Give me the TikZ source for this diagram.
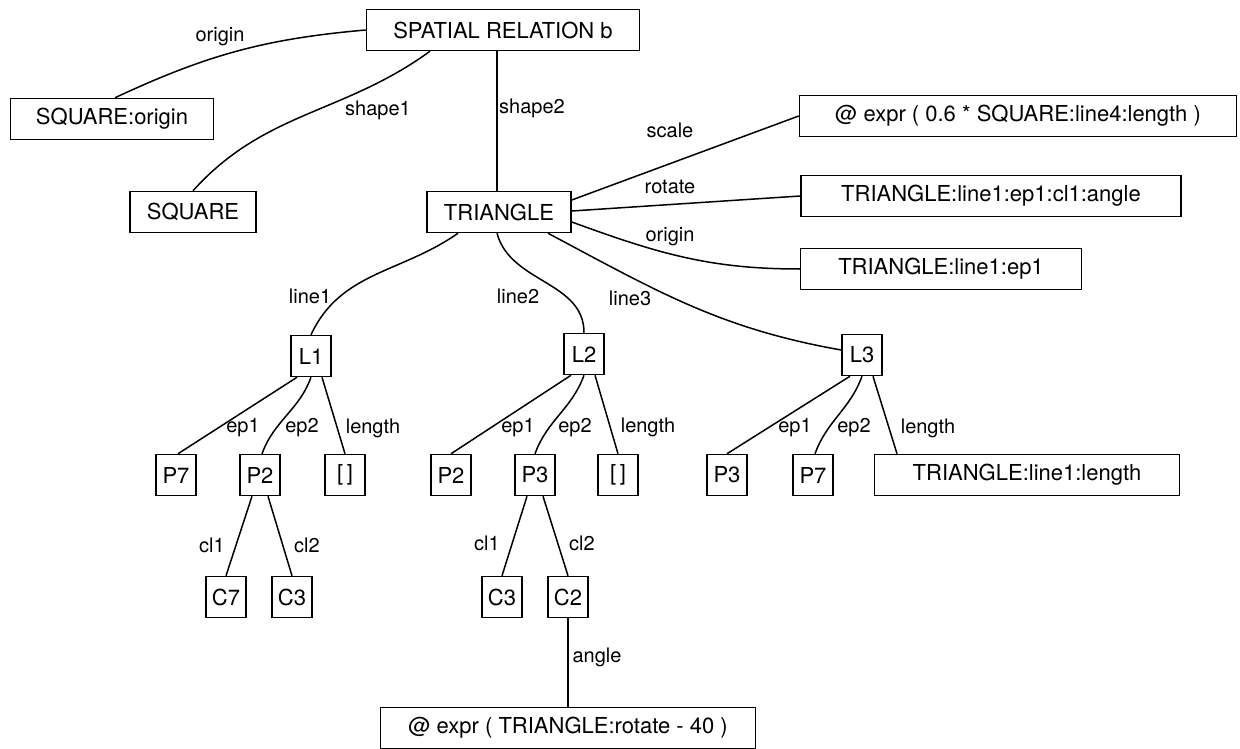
\documentclass[tikz,border=0pt]{standalone}
\usepackage{fontspec}
\setmainfont{TeX Gyre Heros}
\begin{document}
\begin{tikzpicture}[x=1pt,y=1pt,
  box/.style={draw, line width=1.5pt, inner sep=0pt, minimum height=41pt,
    font=\fontsize{22}{26}\selectfont},
  sbox/.style={box, minimum width=40pt},
  lbl/.style={inner sep=0pt, font=\fontsize{20}{24}\selectfont},
  link/.style={line width=1.5pt}]
\useasboundingbox (0,0) rectangle (1240,-749);

% upper part of the relation
\node[box, minimum width=273pt] (rel) at (503,-30) {SPATIAL RELATION b};
\node[box, minimum width=203pt] (sqo) at (112,-119) {SQUARE:origin};
\node[box, minimum width=126pt] (sq)  at (193,-212) {SQUARE};
\node[box, minimum width=144pt] (tri) at (499,-212) {TRIANGLE};
\node[box, minimum width=437pt] (scl) at (1018,-116) {@ expr ( 0.6 * SQUARE:line4:length )};
\node[box, minimum width=380pt] (rot) at (991,-196) {TRIANGLE:line1:ep1:cl1:angle};
\node[box, minimum width=281pt] (org) at (941,-269) {TRIANGLE:line1:ep1};

% lines of the triangle
\node[sbox] (l1) at (311,-356) {L1};
\node[sbox] (l2) at (584,-354) {L2};
\node[sbox] (l3) at (862,-355) {L3};

% end points and lengths
\node[sbox] (a1) at (176,-475) {P7};
\node[sbox] (a2) at (260,-475) {P2};
\node[sbox] (a3) at (345,-475) {[\,]};
\node[sbox] (b1) at (451,-475) {P2};
\node[sbox] (b2) at (535,-475) {P3};
\node[sbox] (b3) at (618,-475) {[\,]};
\node[sbox] (c1) at (727,-475) {P3};
\node[sbox] (c2) at (813,-475) {P7};
\node[box, minimum width=305pt] (c3) at (1027,-475) {TRIANGLE:line1:length};

% corners
\node[sbox] (d1) at (226,-597) {C7};
\node[sbox] (d2) at (292,-597) {C3};
\node[sbox] (e1) at (502,-597) {C3};
\node[sbox] (e2) at (568,-597) {C2};
\node[box, minimum width=375pt] (ex2) at (568,-728) {@ expr ( TRIANGLE:rotate - 40 )};

% connectors
\draw[link] (rel.west) to[out=185,in=25] ([xshift=3pt]sqo.north);
\draw[link] ([xshift=-73pt]rel.south) to[out=216,in=48] (sq.north);
\draw[link] ([xshift=-6pt]rel.south) -- ([xshift=-2pt]tri.north);
\draw[link] ([yshift=12pt]tri.east) -- (scl.west);
\draw[link] ([yshift=1pt]tri.east) -- (rot.west);
\draw[link] ([yshift=-10pt]tri.east) to[out=-20,in=180] (org.west);
\draw[link] ([xshift=-41pt]tri.south) to[out=215,in=65] (l1.north);
\draw[link] ([xshift=-2pt]tri.south) to[out=-75,in=90] (l2.north);
\draw[link] ([xshift=49pt]tri.south) to[out=-28,in=170] ([yshift=5pt]l3.west);

\draw[link] ([xshift=-14pt]l1.south) -- ([xshift=2pt]a1.north);
\draw[link] (l1.south) to[out=250,in=70] ([xshift=2pt]a2.north);
\draw[link] ([xshift=11pt]l1.south) -- (a3.north);
\draw[link] ([xshift=-8pt]a2.south) -- (d1.north);
\draw[link] ([xshift=8pt]a2.south) -- (d2.north);

\draw[link] ([xshift=-13pt]l2.south) -- (b1.north);
\draw[link] (l2.south) to[out=250,in=70] (b2.north);
\draw[link] ([xshift=11pt]l2.south) -- (b3.north);
\draw[link] ([xshift=-8pt]b2.south) -- (e1.north);
\draw[link] ([xshift=8pt]b2.south) -- (e2.north);
\draw[link] (e2.south) -- (ex2.north);

\draw[link] ([xshift=-12pt]l3.south) -- (c1.north);
\draw[link] (l3.south) to[out=250,in=70] ([xshift=2pt]c2.north);
\draw[link] ([xshift=11pt]l3.south) -- ([xshift=-130pt]c3.north);

% connector labels
\node[lbl] (t1)  at (220,-37)  {origin};
\node[lbl] (t2)  at (378,-110) {shape1};
\node[lbl] (t3)  at (532,-108) {shape2};
\node[lbl] (t4)  at (670,-130) {scale};
\node[lbl] (t5)  at (670,-187) {rotate};
\node[lbl] (t6)  at (670,-237) {origin};
\node[lbl] (t7)  at (310,-296) {line1};
\node[lbl] (t8)  at (518,-296) {line2};
\node[lbl] (t9)  at (630,-298) {line3};
\node[lbl] (t10) at (243,-428) {ep1};
\node[lbl] (t11) at (302,-428) {ep2};
\node[lbl] (t12) at (373,-428) {length};
\node[lbl] (t13) at (212,-545) {cl1};
\node[lbl] (t14) at (307,-545) {cl2};
\node[lbl] (t15) at (518,-428) {ep1};
\node[lbl] (t16) at (575,-428) {ep2};
\node[lbl] (t17) at (648,-427) {length};
\node[lbl] (t18) at (487,-543) {cl1};
\node[lbl] (t19) at (582,-543) {cl2};
\node[lbl] (t20) at (795,-428) {ep1};
\node[lbl] (t21) at (854,-428) {ep2};
\node[lbl] (t22) at (928,-428) {length};
\node[lbl] (t23) at (597,-657) {angle};
\end{tikzpicture}
\end{document}
